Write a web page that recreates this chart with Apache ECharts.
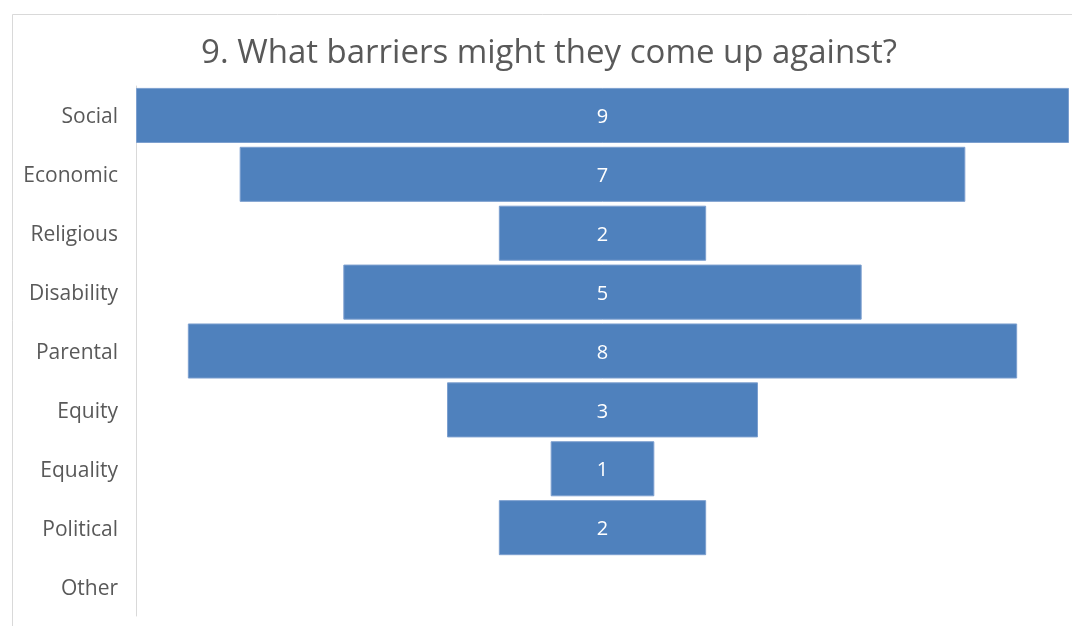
<!DOCTYPE html>
<html>
<head>
<meta charset="utf-8">
<script src="https://cdn.jsdelivr.net/npm/echarts@6/dist/echarts.min.js"></script>
<style>
  html, body { margin: 0; padding: 0; background: #ffffff; }
  #chart { width: 1072px; height: 626px; }
</style>
</head>
<body>
<div id="chart"></div>
<script>
// Answers to question 9, top to bottom
const categories = ['Social', 'Economic', 'Religious', 'Disability', 'Parental', 'Equity', 'Equality', 'Political', 'Other'];
const counts = [9, 7, 2, 5, 8, 3, 1, 2, 0];
const titleText = '9. What barriers might they come up against?';

// Each bar is centred by stacking it on a transparent spacer of half the leftover width
const maxCount = Math.max(...counts);
const spacers = counts.map(v => (maxCount - v) / 2);
// Empty answers get no outline so nothing is drawn for them
const barData = counts.map(v => (v ? v : { value: v, itemStyle: { borderWidth: 0 } }));

const chart = echarts.init(document.getElementById('chart'), null, { renderer: 'canvas' });
const font = '"Open Sans", sans-serif';

chart.setOption({
  animation: false,
  backgroundColor: '#ffffff',
  title: {
    text: titleText,
    left: 544,
    textAlign: 'center',
    top: 32,
    textStyle: { fontFamily: font, fontSize: 33, fontWeight: 'normal', color: '#595959' }
  },
  graphic: [{
    type: 'rect',
    left: 10, top: 12,
    shape: { width: 1100, height: 700 },
    style: { fill: 'none', stroke: '#d9d9d9', lineWidth: 1 },
    silent: true
  }],
  grid: { left: 136, right: 3, top: 86, bottom: 10, containLabel: false },
  xAxis: {
    type: 'value', min: 0, max: maxCount,
    show: false
  },
  yAxis: {
    type: 'category',
    data: categories,
    inverse: true,
    axisLine: { show: true, lineStyle: { color: '#d9d9d9', width: 1 } },
    axisTick: { show: false },
    axisLabel: {
      margin: 18,
      formatter: v => '{c|' + v + '}',
      rich: { c: { fontFamily: font, fontSize: 21, color: '#595959', padding: [4, 0, 0, 0] } }
    }
  },
  series: [
    {
      type: 'bar', stack: 'funnel', data: spacers,
      itemStyle: { color: 'transparent' },
      silent: true,
      barCategoryGap: '6.5%'
    },
    {
      type: 'bar', stack: 'funnel', data: barData,
      barCategoryGap: '6.5%',
      itemStyle: { color: '#4f81bd', borderColor: '#7c9fcf', borderWidth: 1 },
      label: {
        show: true, position: 'inside', offset: [0, 2],
        fontFamily: font, fontSize: 20, color: '#ffffff',
        formatter: p => (p.value ? String(p.value) : '')
      }
    }
  ]
});
</script>
</body>
</html>
